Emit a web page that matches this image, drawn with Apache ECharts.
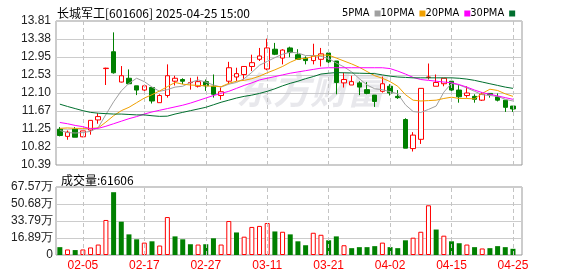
<!DOCTYPE html>
<html>
<head>
<meta charset="utf-8">
<script src="https://cdn.jsdelivr.net/npm/echarts@6/dist/echarts.min.js"></script>
<style>
html,body{margin:0;padding:0;background:#fff;}
#c{width:578px;height:276px;}
</style>
</head>
<body>
<div id="c"></div>
<script>
// ---- data ----
const dates = ['01-23','01-24','01-27','02-05','02-06','02-07','02-10','02-11','02-12','02-13',
 '02-14','02-17','02-18','02-19','02-20','02-21','02-24','02-25','02-26','02-27',
 '02-28','03-03','03-04','03-05','03-06','03-07','03-10','03-11','03-12','03-13',
 '03-14','03-17','03-18','03-19','03-20','03-21','03-24','03-25','03-26','03-27',
 '03-28','03-31','04-01','04-02','04-03','04-07','04-08','04-09','04-10','04-11',
 '04-14','04-15','04-16','04-17','04-18','04-21','04-22','04-23','04-24','04-25'];
const opens = [11.24,11.07,11.24,11.06,11.22,11.46,12.68,13.08,12.36,12.45,
 12.27,12.17,12.23,11.87,12.04,12.38,12.42,12.345,12.26,12.37,
 12.26,12.04,12.38,12.48,12.54,12.73,12.90,12.67,13.14,12.93,
 13.17,13.01,12.93,12.87,12.90,13.05,12.86,12.34,12.29,12.34,
 12.18,12.05,12.14,12.26,12.02,11.47,10.78,11.00,12.47,12.26,
 12.32,12.38,12.17,12.04,12.02,11.93,12.09,12.01,11.93,11.79];
const closes = [11.09,11.17,11.05,11.20,11.45,11.54,12.69,12.58,12.51,12.32,
 12.17,12.27,11.91,12.04,12.51,12.45,12.38,12.35,12.37,12.27,
 12.07,12.13,12.70,12.56,12.73,12.82,12.98,13.17,13.02,13.12,
 13.06,12.90,12.87,12.98,13.03,12.84,12.35,12.42,12.37,12.24,
 12.09,11.90,12.32,12.10,11.99,10.79,11.10,12.21,12.48,12.35,
 12.45,12.17,12.01,12.10,11.95,12.07,12.06,11.93,11.76,11.72];
const lows = [11.07,10.99,11.05,11.05,11.11,11.37,12.29,12.56,12.35,12.31,
 12.05,12.13,11.85,11.87,11.99,12.28,12.31,12.18,12.23,12.15,
 11.99,11.94,12.31,12.38,12.42,12.62,12.86,12.64,13.00,12.78,
 12.95,12.89,12.78,12.78,12.73,12.78,12.07,12.23,12.29,12.05,
 12.07,11.77,12.11,12.04,11.96,10.79,10.71,10.89,12.42,12.26,
 12.26,12.05,11.87,11.99,11.87,11.91,11.99,11.90,11.65,11.65];
const highs = [11.29,11.21,11.29,11.20,11.45,11.62,12.70,13.54,12.74,12.66,
 12.27,12.29,12.23,12.07,12.78,12.51,12.45,12.46,12.49,12.42,
 12.54,12.23,12.84,12.70,12.73,13.01,13.17,13.39,13.29,13.14,
 13.20,13.14,12.97,13.27,13.17,13.07,12.86,12.58,12.51,12.38,
 12.36,12.05,12.49,12.31,12.17,11.50,11.17,12.21,12.80,12.54,
 12.45,12.40,12.31,12.26,12.07,12.12,12.10,12.09,11.93,11.79];
// volume in 万手
const volumes = [7.8,5.5,4.9,5.5,7.5,10.4,34.8,62.4,33.1,20.5,
 15.6,12.3,13.6,9.4,37.7,18.5,15.6,10.7,10.4,10.7,
 16.6,10.4,33.8,22.4,18.2,27.9,28.9,31.8,23.4,23.1,
 20.5,13.6,9.7,22.1,20.1,14.6,18.5,9.7,6.8,7.8,
 7.8,8.8,12.3,7.8,6.8,14.6,17.2,23.1,49.4,25.3,
 19.2,13.6,11.7,10.4,7.8,6.5,6.8,8.8,7.8,6.1606];
const ma5 = [11.21,11.16,11.15,11.16,11.19,11.28,11.59,11.89,12.15,12.33,
 12.45,12.37,12.24,12.14,12.18,12.24,12.26,12.35,12.41,12.36,
 12.29,12.24,12.31,12.35,12.44,12.59,12.76,12.85,12.94,13.02,
 13.07,13.05,12.99,12.99,12.97,12.92,12.81,12.72,12.60,12.44,
 12.29,12.20,12.18,12.13,12.08,11.82,11.66,11.64,11.71,11.79,
 12.12,12.33,12.29,12.22,12.14,12.06,12.04,12.02,11.95,11.91];
const ma10 = [11.26,11.27,11.26,11.26,11.26,11.27,11.41,11.56,11.68,11.76,
 11.87,11.98,12.06,12.15,12.25,12.35,12.31,12.29,12.28,12.27,
 12.26,12.25,12.33,12.38,12.40,12.44,12.50,12.58,12.65,12.73,
 12.83,12.91,12.92,12.97,13.00,13.00,12.93,12.86,12.79,12.71,
 12.61,12.51,12.45,12.37,12.26,12.06,11.93,11.91,11.92,11.93,
 11.97,12.00,11.97,11.97,11.96,12.09,12.19,12.16,12.08,12.02];
const ma20 = [11.40,11.37,11.33,11.30,11.25,11.26,11.31,11.37,11.43,11.49,
 11.54,11.60,11.65,11.69,11.73,11.77,11.81,11.86,11.92,11.98,
 12.04,12.09,12.14,12.21,12.28,12.34,12.41,12.45,12.49,12.53,
 12.57,12.60,12.63,12.66,12.69,12.70,12.70,12.70,12.70,12.70,
 12.70,12.70,12.70,12.68,12.62,12.55,12.47,12.42,12.40,12.38,
 12.36,12.345,12.30,12.24,12.17,12.11,12.07,12.03,11.99,11.95];
const ma30 = [11.835,11.78,11.73,11.68,11.64,11.62,11.61,11.60,11.60,11.59,
 11.58,11.58,11.56,11.545,11.55,11.60,11.64,11.68,11.72,11.76,
 11.82,11.88,11.93,11.98,12.02,12.05,12.09,12.14,12.20,12.27,
 12.33,12.38,12.44,12.49,12.55,12.57,12.585,12.58,12.575,12.57,
 12.565,12.56,12.53,12.50,12.48,12.47,12.46,12.46,12.46,12.46,
 12.46,12.46,12.45,12.43,12.40,12.36,12.32,12.28,12.24,12.21];
const priceTicks = ['10.39','10.82','11.25','11.67','12.10','12.53','12.95','13.38','13.81'];
const volTicks = ['0','16.89万','33.79万','50.68万','67.57万'];
const xTickDates = ['02-05','02-17','02-27','03-11','03-21','04-02','04-15','04-25'];
const titleText = '长城军工[601606] 2025-04-25 15:00';

// ---- build ----
const RED = '#ff0000', GREEN = '#008000';
const pMin = +priceTicks[0], pMax = +priceTicks[priceTicks.length-1];
const vMax = parseFloat(volTicks[volTicks.length-1]);
const nearest = (arr, v) => arr.reduce((a,b)=> Math.abs(parseFloat(b)-v) < Math.abs(parseFloat(a)-v) ? b : a);

const kData = dates.map((d,i)=>[opens[i], closes[i], lows[i], highs[i]]);
const volData = volumes.map((v,i)=>{
  const up = i>0 ? closes[i] > closes[i-1] : closes[i] > opens[i];
  return {value:v, itemStyle: up ? {color:'#ffffff', borderColor:RED, borderWidth:1} : {color:GREEN, borderColor:GREEN, borderWidth:0}};
});

const chart = echarts.init(document.getElementById('c'), null, {renderer:'canvas'});
const labelFont = "'Liberation Sans', Arial, sans-serif";
const L = 56, PW = 466, DW = 460.8;
const vLine = {
  symbol:['none','none'], silent:true, label:{show:false},
  lineStyle:{color:'#c4c4c4', type:[4,3], width:1},
  data: xTickDates.map(d=>({xAxis:d})), animation:false
};
const maColors = ['#a0a0a0','#f0a000','#ff00ff','#006f2e'];
const maNames = ['5PMA','10PMA','20PMA','30PMA'];
const maData = [ma5, ma10, ma20, ma30];

chart.setOption({
  animation:false,
  backgroundColor:'#ffffff',
  title:[
    {text:titleText, left:52, top:2, textStyle:{fontSize:12, fontWeight:'normal', color:'#000', fontFamily:"'Noto Sans CJK SC', sans-serif"}},
    {text:'成交量:' + Math.round(volumes[volumes.length-1]*10000), left:56, top:169, textStyle:{fontSize:12, fontWeight:'normal', color:'#000', fontFamily:"'Noto Sans CJK SC', sans-serif"}}
  ],
  legend:{
    data:maNames, left:337, top:3, align:'right', icon:'rect', itemWidth:6, itemHeight:6, itemGap:0,
    selectedMode:false,
    textStyle:{fontSize:11, color:'#000', padding:[0,0,0,0], fontFamily:"'Liberation Sans Narrow', 'DejaVu Sans Condensed', sans-serif"}
  },
  graphic:[{
    type:'text', left:236, top:71, z:1, silent:true,
    style:{text:'东方财富', fill:'rgba(200,200,210,0.42)', font:"italic bold 37px 'Noto Sans CJK SC', sans-serif"}
  }],
  grid:[
    {left:L, top:21, width:PW, height:144, show:true, borderColor:'#999', borderWidth:1, backgroundColor:'transparent', z:0},
    {left:L, top:21, width:DW, height:144},
    {left:L, top:187, width:PW, height:68, show:true, borderColor:'#999', borderWidth:1, backgroundColor:'transparent', z:0},
    {left:L, top:187, width:DW, height:68}
  ],
  xAxis:[
    {type:'value', gridIndex:0, min:0, max:1, show:false},
    {type:'category', gridIndex:1, data:dates, boundaryGap:true, show:false},
    {type:'value', gridIndex:2, min:0, max:1, show:false},
    {type:'category', gridIndex:3, data:dates, boundaryGap:true,
     axisLine:{show:false}, axisTick:{show:false}, splitLine:{show:false},
     axisLabel:{interval:(i,v)=>xTickDates.includes(v), color:RED, fontSize:12, margin:5, fontFamily:labelFont}}
  ],
  yAxis:[
    {type:'value', gridIndex:0, min:pMin, max:pMax, interval:(pMax-pMin)/8,
     axisLine:{show:false}, axisTick:{show:false},
     splitLine:{show:true, lineStyle:{color:'#cccccc', width:1}},
     axisLabel:{formatter:v=>nearest(priceTicks,v), color:'#222', fontSize:12, margin:5, fontFamily:labelFont, showMinLabel:true, showMaxLabel:true}},
    {type:'value', gridIndex:1, min:pMin, max:pMax, show:false},
    {type:'value', gridIndex:2, min:0, max:vMax, interval:vMax/4,
     axisLine:{show:false}, axisTick:{show:false},
     splitLine:{show:true, lineStyle:{color:'#cccccc', width:1}},
     axisLabel:{formatter:v=>nearest(volTicks,v), color:'#222', fontSize:12, margin:3, fontFamily:labelFont, showMinLabel:true, showMaxLabel:true}},
    {type:'value', gridIndex:3, min:0, max:vMax, show:false}
  ],
  series:[
    {type:'line', xAxisIndex:1, yAxisIndex:1, data:dates.map(()=>null), z:1, showSymbol:false, markLine:vLine, silent:true},
    {type:'line', xAxisIndex:3, yAxisIndex:3, data:dates.map(()=>null), z:1, showSymbol:false, markLine:vLine, silent:true},
    {type:'candlestick', name:'K', xAxisIndex:1, yAxisIndex:1, data:kData, barWidth:5, z:3,
     itemStyle:{color:'#ffffff', color0:GREEN, borderColor:RED, borderColor0:GREEN, borderWidth:1}},
    ...maNames.map((n,k)=>({
      type:'line', name:n, xAxisIndex:1, yAxisIndex:1, data:maData[k], showSymbol:false, symbol:'none',
      z:4+k, lineStyle:{color:maColors[k], width:1}, itemStyle:{color:maColors[k]}, silent:true
    })),
    {type:'bar', name:'VOL', xAxisIndex:3, yAxisIndex:3, data:volData, barWidth:5, z:3}
  ]
});
</script>
</body>
</html>
